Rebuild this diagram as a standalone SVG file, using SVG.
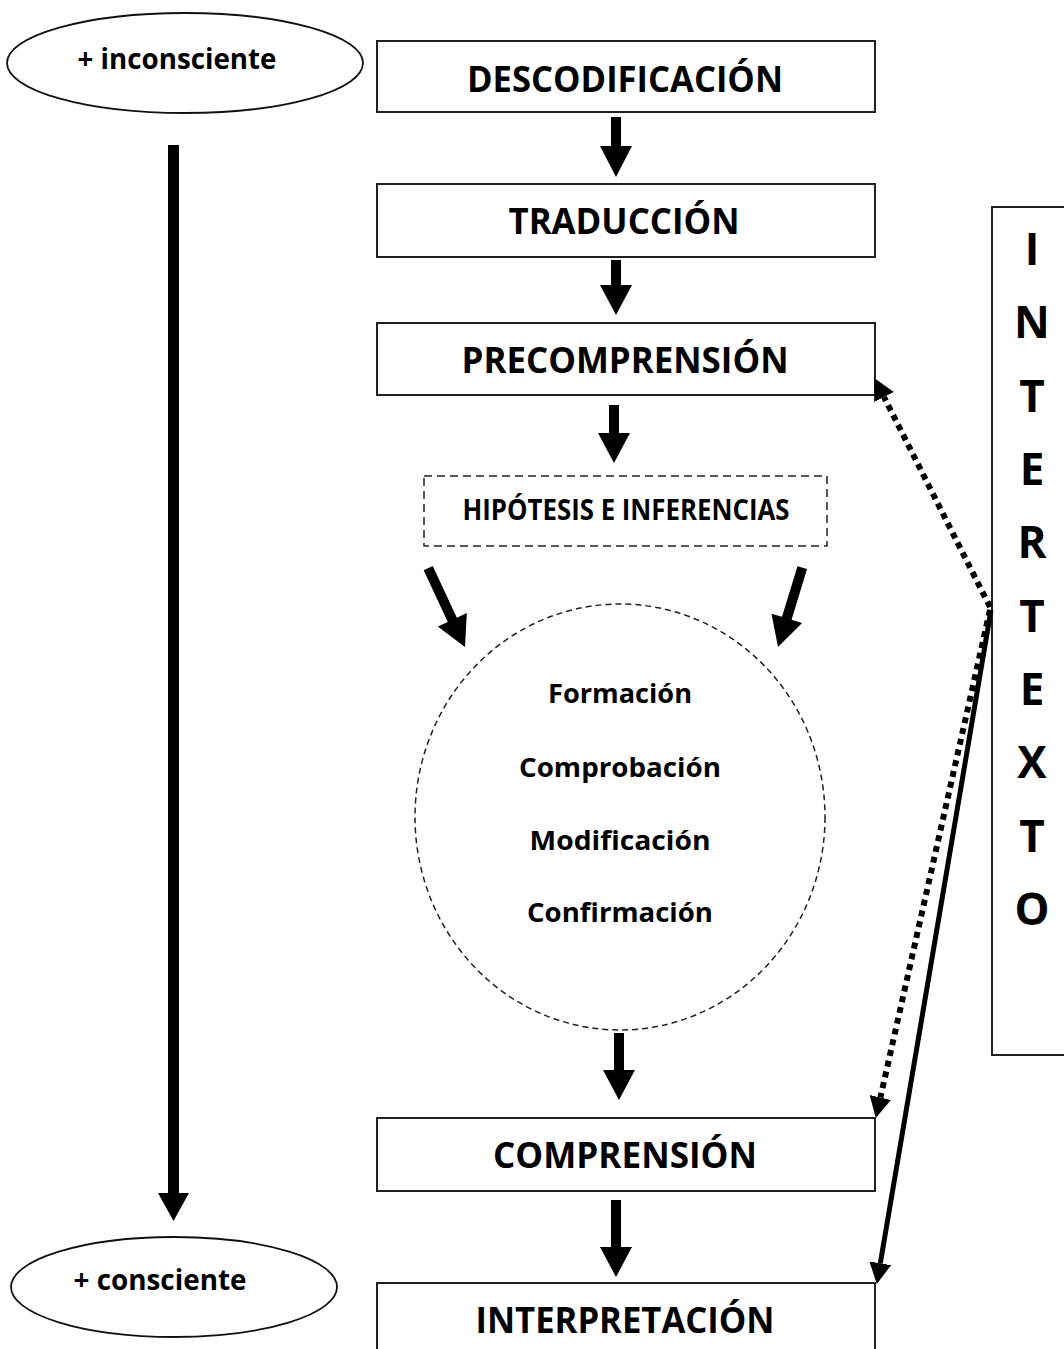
<svg xmlns="http://www.w3.org/2000/svg" width="1064" height="1349" viewBox="0 0 1064 1349">
<style>
.box{fill:#fff;stroke:#222;stroke-width:2}
.dbox{fill:none;stroke:#222;stroke-width:1.5;stroke-dasharray:8 5}
.dcirc{fill:none;stroke:#222;stroke-width:1.5;stroke-dasharray:6 4}
.ell{fill:#fff;stroke:#111;stroke-width:1.8}
.t{font-family:"Open Sans","Liberation Sans",sans-serif;font-weight:bold;fill:#000;text-anchor:middle}
.big{font-size:36px}
.mid{font-size:28px}
.lo{font-size:29px}
.sm{font-size:27px}
.let{font-size:44px}
.blk{fill:#000}
.dot{stroke:#000;stroke-width:6;stroke-dasharray:6 5;fill:none}
.sol{stroke:#000;stroke-width:5;fill:none}
</style>
<defs>
<marker id="ah" markerUnits="userSpaceOnUse" markerWidth="22" markerHeight="22" refX="0" refY="11" orient="auto">
<path d="M0,0 L21,11 L0,22 Z" fill="#000"/>
</marker>
</defs>

<g id="n-inconsciente">
<ellipse class="ell" cx="185" cy="63" rx="178" ry="50"/>
<text class="t lo" x="177" y="69" textLength="199" lengthAdjust="spacingAndGlyphs">+ inconsciente</text>
</g>
<g id="n-consciente">
<ellipse class="ell" cx="174" cy="1287" rx="163" ry="50"/>
<text class="t lo" x="160" y="1290" textLength="173" lengthAdjust="spacingAndGlyphs">+ consciente</text>
</g>

<g id="n-descodificacion">
<rect class="box" x="377" y="41" width="498" height="71"/>
<text class="t big" x="625" y="92" textLength="316" lengthAdjust="spacingAndGlyphs">DESCODIFICACIÓN</text>
</g>
<g id="n-traduccion">
<rect class="box" x="377" y="184" width="498" height="73"/>
<text class="t big" x="624" y="234" textLength="231" lengthAdjust="spacingAndGlyphs">TRADUCCIÓN</text>
</g>
<g id="n-precomprension">
<rect class="box" x="377" y="323" width="498" height="72"/>
<text class="t big" x="625" y="373" textLength="327" lengthAdjust="spacingAndGlyphs">PRECOMPRENSIÓN</text>
</g>
<g id="n-hipotesis">
<rect class="dbox" x="424" y="476" width="403" height="70"/>
<text class="t mid" x="626" y="520" textLength="327" lengthAdjust="spacingAndGlyphs">HIPÓTESIS E INFERENCIAS</text>
</g>
<g id="n-ciclo">
<ellipse class="dcirc" cx="620" cy="817" rx="205" ry="213"/>
<text class="t sm" x="620" y="703" textLength="144" lengthAdjust="spacingAndGlyphs">Formación</text>
<text class="t sm" x="620" y="777" textLength="202" lengthAdjust="spacingAndGlyphs">Comprobación</text>
<text class="t sm" x="620" y="850" textLength="181" lengthAdjust="spacingAndGlyphs">Modificación</text>
<text class="t sm" x="620" y="922" textLength="186" lengthAdjust="spacingAndGlyphs">Confirmación</text>
</g>
<g id="n-comprension">
<rect class="box" x="377" y="1118" width="498" height="73"/>
<text class="t big" x="625" y="1168" textLength="264" lengthAdjust="spacingAndGlyphs">COMPRENSIÓN</text>
</g>
<g id="n-interpretacion">
<rect class="box" x="377" y="1283" width="498" height="80"/>
<text class="t big" x="625" y="1333" textLength="299" lengthAdjust="spacingAndGlyphs">INTERPRETACIÓN</text>
</g>
<g id="n-intertexto">
<rect class="box" x="992" y="207" width="100" height="848"/>
<text class="t let" x="1032" y="265">I</text>
<text class="t let" x="1032" y="338">N</text>
<text class="t let" x="1032" y="412">T</text>
<text class="t let" x="1032" y="485">E</text>
<text class="t let" x="1032" y="558">R</text>
<text class="t let" x="1032" y="632">T</text>
<text class="t let" x="1032" y="705">E</text>
<text class="t let" x="1032" y="778">X</text>
<text class="t let" x="1032" y="852">T</text>
<text class="t let" x="1032" y="925">O</text>
</g>

<g id="connectors">
<path class="blk" d="M611,117 H621 V146 H632 L616,177 L600,146 H611 Z"/>
<path class="blk" d="M611,260 H621 V285 H632 L616,315 L600,285 H611 Z"/>
<path class="blk" d="M609,405 H619 V433 H630 L614,463 L598,433 H609 Z"/>
<path class="blk" d="M614,1033 H624 V1070 H635 L619,1100 L603,1070 H614 Z"/>
<path class="blk" d="M611,1200 H621 V1247 H632 L616,1277 L600,1247 H611 Z"/>
<path class="blk" d="M168,145 H179 V1193 H189 L173.5,1221 L158,1193 H168 Z"/>
<path class="blk" transform="translate(465,647) rotate(-25)" d="M-5,-87 H5 V-30 H16 L0,0 L-16,-30 H-5 Z"/>
<path class="blk" transform="translate(778,647) rotate(17)" d="M-5,-83 H5 V-30 H16 L0,0 L-16,-30 H-5 Z"/>
<line class="dot" x1="990" y1="607" x2="884" y2="397" marker-end="url(#ah)"/>
<line class="dot" x1="990" y1="610" x2="880.4" y2="1097.5" marker-end="url(#ah)"/>
<line class="sol" x1="991" y1="610" x2="880.3" y2="1263.3" marker-end="url(#ah)"/>
</g>
</svg>
